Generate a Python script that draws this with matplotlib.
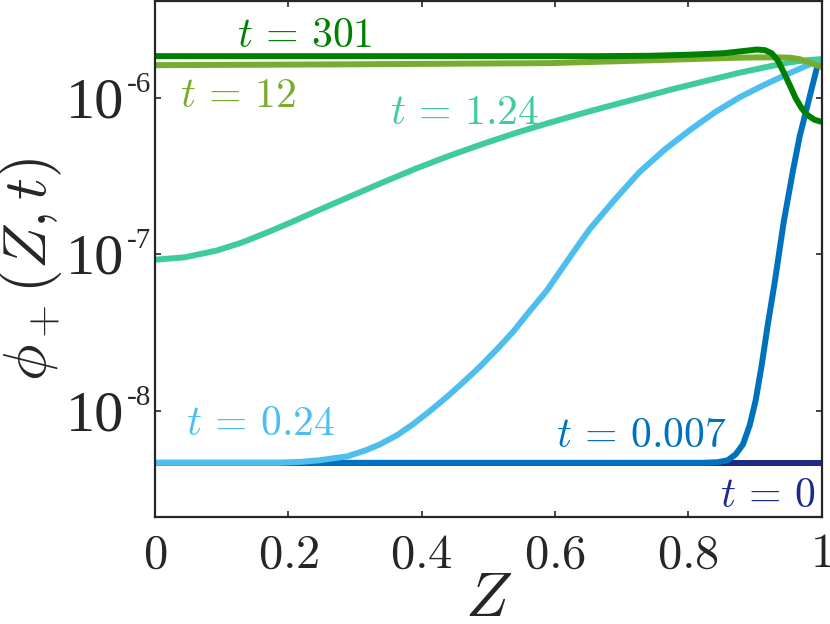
import matplotlib
matplotlib.use('Agg')
import matplotlib.pyplot as plt

plt.rcParams['mathtext.fontset'] = 'cm'

# curves, phi_+(Z, t) on a log axis
z_t0 = [0.0, 1.0]
phi_t0 = [4.66e-9, 4.66e-9]

z_t0007 = [0.0, 0.82, 0.844, 0.859, 0.871, 0.882, 0.892, 0.901, 0.910, 0.919,
           0.930, 0.943, 0.957, 0.967, 0.978, 0.993, 1.0]
phi_t0007 = [4.66e-9, 4.66e-9, 4.70e-9, 4.84e-9, 5.28e-9, 6.12e-9, 8.09e-9,
             1.17e-8, 1.96e-8, 3.53e-8, 6.84e-8, 1.61e-7, 3.45e-7, 5.69e-7,
             8.73e-7, 1.57e-6, 1.77e-6]

z_t024 = [0.0, 0.187, 0.217, 0.247, 0.288, 0.315, 0.337, 0.363, 0.387, 0.412,
          0.438, 0.462, 0.487, 0.513, 0.537, 0.562, 0.588, 0.612, 0.637, 0.652,
          0.690, 0.727, 0.765, 0.802, 0.840, 0.877, 0.915, 0.952, 0.982, 1.0]
phi_t024 = [4.66e-9, 4.66e-9, 4.72e-9, 4.84e-9, 5.12e-9, 5.58e-9, 6.10e-9,
            7.00e-9, 8.22e-9, 9.95e-9, 1.23e-8, 1.52e-8, 1.91e-8, 2.48e-8,
            3.20e-8, 4.34e-8, 5.90e-8, 8.30e-8, 1.18e-7, 1.45e-7, 2.25e-7,
            3.37e-7, 4.70e-7, 6.22e-7, 8.11e-7, 1.01e-6, 1.22e-6, 1.44e-6,
            1.64e-6, 1.77e-6]

z_t124 = [0.0, 0.045, 0.093, 0.130, 0.168, 0.205, 0.243, 0.292, 0.342, 0.393,
          0.442, 0.492, 0.543, 0.592, 0.642, 0.678, 0.727, 0.777, 0.828, 0.877,
          0.915, 0.952, 0.982, 1.0]
phi_t124 = [9.25e-8, 9.59e-8, 1.06e-7, 1.19e-7, 1.38e-7, 1.61e-7, 1.90e-7,
            2.34e-7, 2.89e-7, 3.56e-7, 4.28e-7, 5.09e-7, 6.01e-7, 6.95e-7,
            8.00e-7, 8.81e-7, 1.00e-6, 1.14e-6, 1.29e-6, 1.45e-6, 1.57e-6,
            1.69e-6, 1.75e-6, 1.77e-6]

z_t12 = [0.0, 0.292, 0.592, 0.742, 0.877, 0.922, 0.952, 0.967, 0.982, 1.0]
phi_t12 = [1.62e-6, 1.64e-6, 1.67e-6, 1.74e-6, 1.81e-6, 1.82e-6, 1.81e-6,
           1.77e-6, 1.68e-6, 1.58e-6]

z_t301 = [0.0, 0.667, 0.742, 0.802, 0.852, 0.885, 0.903, 0.915, 0.925, 0.934,
          0.943, 0.952, 0.961, 0.970, 0.979, 0.989, 1.0]
phi_t301 = [1.85e-6, 1.85e-6, 1.86e-6, 1.89e-6, 1.93e-6, 2.00e-6, 2.04e-6,
            2.02e-6, 1.93e-6, 1.74e-6, 1.46e-6, 1.21e-6, 9.96e-7, 8.59e-7,
            7.76e-7, 7.26e-7, 7.03e-7]

curves = [
    (z_t0, phi_t0, '#1c2a88', r'$t \,=\, 0$'),
    (z_t0007, phi_t0007, '#0072bd', r'$t \,=\, 0.007$'),
    (z_t024, phi_t024, '#4dbeee', r'$t \,=\, 0.24$'),
    (z_t124, phi_t124, '#3fcb9b', r'$t \,=\, 1.24$'),
    (z_t12, phi_t12, '#77ac30', r'$t \,=\, 12$'),
    (z_t301, phi_t301, '#008000', r'$t \,=\, 301$'),
]

# where each curve's label sits (Z, phi), same order as curves
label_z = [0.848, 0.601, 0.047, 0.352, 0.0375, 0.123]
label_phi = [2.44e-9, 5.89e-9, 6.98e-9, 6.79e-7, 8.71e-7, 2.11e-6]

xticks = [0, 0.2, 0.4, 0.6, 0.8, 1]
xticklabels = ['0', '0.2', '0.4', '0.6', '0.8', '1']
yticks = [1e-8, 1e-7, 1e-6]
ytick_exps = ['-8', '-7', '-6']

fig = plt.figure(figsize=(8.3, 6.24), dpi=100)
ax = fig.add_axes([0.1867, 0.1715, 0.8033, 0.8265])

for (z, phi, col, lab), lz, lp in zip(curves, label_z, label_phi):
    ax.plot(z, phi, color=col, lw=4.3, solid_capstyle='butt',
            solid_joinstyle='round')
    ax.text(lz, lp, lab, color=col, fontsize=30, ha='left', va='baseline')

ax.set_yscale('log')
ax.set_xlim(0, 1)
ax.set_ylim(2.10e-9, 4.15e-6)

ax.set_xticks(xticks)
ax.set_xticklabels(['$%s$' % s for s in xticklabels], fontsize=35)
ax.set_yticks(yticks)
ax.set_yticklabels([''] * len(yticks))
ax.yaxis.set_minor_locator(matplotlib.ticker.NullLocator())

# MATLAB style 10^-n labels: big "10" and a small exponent
for yv, ex in zip(yticks, ytick_exps):
    ax.annotate('10', xy=(0, yv), xycoords=('axes fraction', 'data'),
                xytext=(-22, -4), textcoords='offset points',
                ha='right', va='center', fontsize=42,
                family='Liberation Serif', color='#262626')
    ax.annotate(ex, xy=(0, yv), xycoords=('axes fraction', 'data'),
                xytext=(-20.5, 0), textcoords='offset points',
                ha='left', va='bottom', fontsize=21,
                family='Liberation Serif', color='#262626')

ax.tick_params(which='both', direction='in', top=True, right=True,
               length=4, width=1.2, colors='#262626')
ax.tick_params(axis='x', pad=9)
for sp in ax.spines.values():
    sp.set_linewidth(1.6)
    sp.set_color('#262626')

ax.set_xlabel('$Z$', fontsize=45, labelpad=-6, color='#262626')
ax.set_ylabel(r'$\phi_+(Z, t)$', fontsize=44, color='#262626')
ax.yaxis.set_label_coords(-0.137, 0.48)

fig.savefig('out.png', dpi=100)
